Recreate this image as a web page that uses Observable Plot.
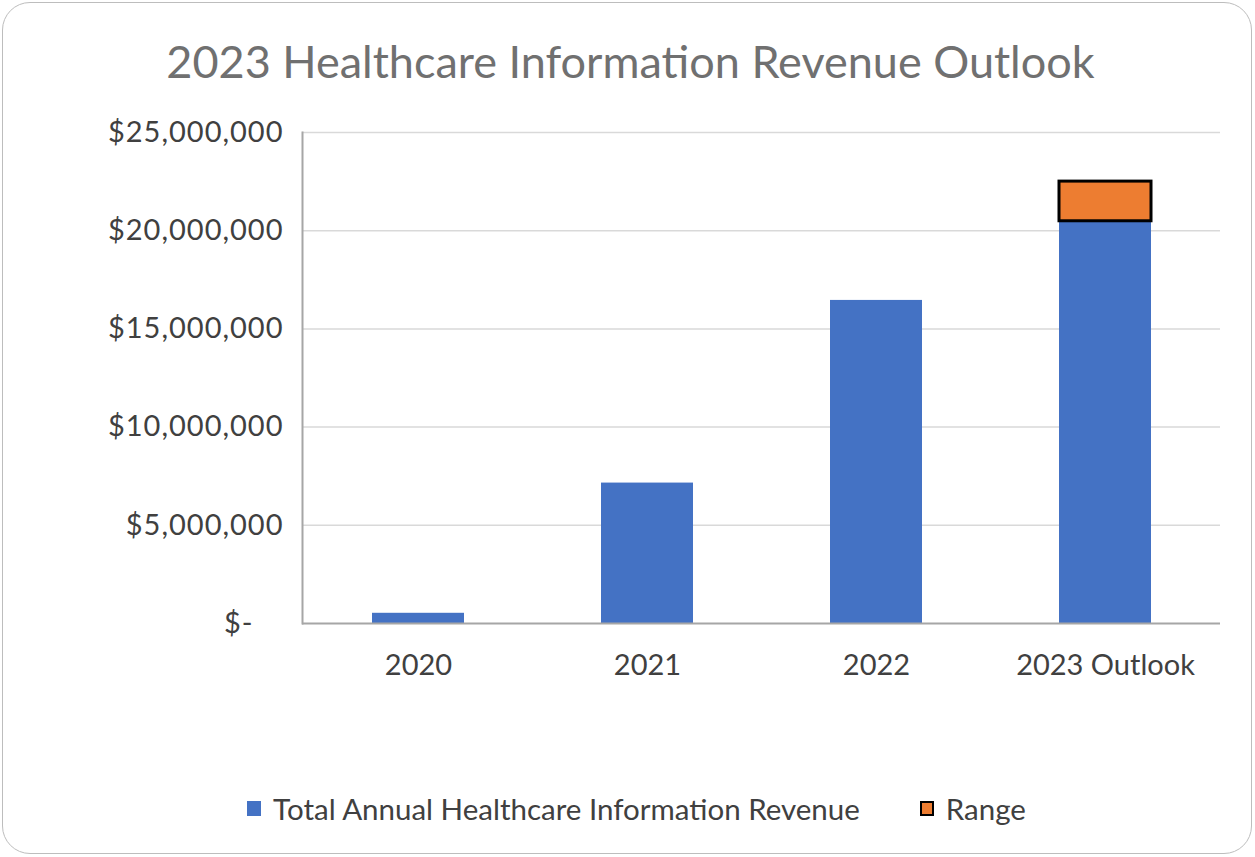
<!DOCTYPE html>
<html>
<head>
<meta charset="utf-8">
<script src="https://cdn.jsdelivr.net/npm/d3@7"></script>
<script src="https://cdn.jsdelivr.net/npm/@observablehq/plot@0.6"></script>
<style>
  html, body { margin: 0; padding: 0; background: #fff; }
  body { width: 1255px; height: 857px; position: relative; overflow: hidden; font-family: Lato, "Open Sans", sans-serif; }
  #frame { position: absolute; left: 2px; top: 2px; width: 1250px; height: 852px; border: 1.5px solid #bdbdbd; border-radius: 28px; box-sizing: border-box; }
  #title { position: absolute; left: 0; top: 34px; width: 1255px; text-align: center; font-size: 45px; color: #707070; line-height: 54px; letter-spacing: 0px; padding-left: 6px; box-sizing: border-box; }
  #chart { position: absolute; left: 0; top: 0; }
  #chart g[aria-label="y-axis tick label"] { letter-spacing: 1px; }
  #legend { position: absolute; left: 0; top: 791px; width: 1255px; display: flex; justify-content: center; align-items: center; font-size: 29.5px; color: #404040; line-height: 35px; padding-left: 18px; box-sizing: border-box; }
  .sw { display: inline-block; width: 14px; height: 15px; margin-right: 12px; box-sizing: border-box; }
  .item { display: flex; align-items: center; margin: 0 30px; }
</style>
</head>
<body>
<div id="frame"></div>
<div id="title">2023 Healthcare Information Revenue Outlook</div>
<div id="chart"></div>
<div id="legend"></div>
<script>
const categories = ["2020", "2021", "2022", "2023 Outlook"];
const revenue = [520000, 7150000, 16450000, 20480000];
const rangeExtra = [0, 0, 0, 2020000];
const yTicks = [5000000, 10000000, 15000000, 20000000, 25000000];
const seriesNames = ["Total Annual Healthcare Information Revenue", "Range"];
const colors = ["#4472C4", "#ED7D31"];

const base = categories.map((c, i) => ({cat: c, v: revenue[i]}));
const ranges = categories.map((c, i) => ({cat: c, lo: revenue[i], hi: revenue[i] + rangeExtra[i]})).filter(d => d.hi > d.lo);

const fmt = d3.format(",");
const plot = Plot.plot({
  width: 1255,
  height: 857,
  marginTop: 132,
  marginBottom: 234,
  marginLeft: 302,
  marginRight: 35,
  style: {fontFamily: "Lato, 'Open Sans', sans-serif", fontSize: "29px", color: "#404040", background: "transparent"},
  x: {domain: categories, paddingInner: 0.6, paddingOuter: 0.3, label: null},
  y: {domain: [0, 25000000], label: null},
  marks: [
    Plot.gridY(yTicks, {stroke: "#d9d9d9", strokeOpacity: 1, strokeWidth: 1.5}),
    Plot.barY(base, {x: "cat", y: "v", fill: colors[0]}),
    Plot.barY(ranges, {x: "cat", y1: "lo", y2: "hi", fill: colors[1], stroke: "#000", strokeWidth: 3}),
    Plot.ruleY([0], {stroke: "#a6a6a6", strokeWidth: 2}),
    Plot.frame({anchor: "left", stroke: "#a6a6a6", strokeWidth: 2}),
    Plot.axisY(yTicks, {tickSize: 0, tickPadding: 19, tickFormat: d => "$" + fmt(d), label: null, fill: "#404040"}),
    Plot.axisY([0], {tickSize: 0, tickPadding: 49, tickFormat: () => "$-", label: null, fill: "#404040"}),
    Plot.axisX({tickSize: 0, tickPadding: 31, label: null, fill: "#404040"})
  ]
});
document.getElementById("chart").appendChild(plot);

const legend = document.getElementById("legend");
seriesNames.forEach((name, i) => {
  const item = document.createElement("div");
  item.className = "item";
  const sw = document.createElement("span");
  sw.className = "sw";
  sw.style.background = colors[i];
  if (i === 1) sw.style.border = "2.5px solid #000";
  const t = document.createElement("span");
  t.textContent = name;
  item.appendChild(sw); item.appendChild(t);
  legend.appendChild(item);
});
</script>
</body>
</html>
